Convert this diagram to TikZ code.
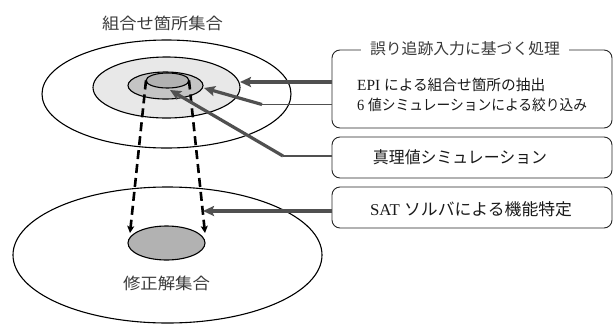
\documentclass[tikz,border=0pt]{standalone}
\usepackage{fontspec}
\usepackage{graphicx}
\setmainfont{Liberation Serif}
\newfontfamily\jp{Noto Sans CJK JP}
\usetikzlibrary{shapes.geometric,arrows.meta}
\definecolor{arrowgray}{HTML}{505050}
\definecolor{lightfill}{HTML}{E8E8E8}
\definecolor{midfill}{HTML}{C4C4C4}
\definecolor{darkfill}{HTML}{B2B2B2}
\definecolor{labelgray}{HTML}{3A3A3A}
\newcommand{\fitto}[2]{\resizebox{#1}{\height}{#2}}
\begin{document}
\begin{tikzpicture}[x=1pt,y=-1pt,
  ell/.style={ellipse,draw=black,line width=1.1pt,inner sep=0pt,outer sep=0pt},
  procbox/.style={draw=black!85,line width=0.9pt,rounded corners=8pt,minimum width=280pt,inner sep=0pt,outer sep=0pt},
  biglbl/.style={font=\jp\fontsize{16}{18}\selectfont,text=labelgray,inner sep=0pt},
  boxtxt/.style={font=\fontsize{15.5}{18}\selectfont,text=black!90,inner sep=0pt},
  fatarrow/.style={draw=arrowgray,line width=3.2pt,-{Stealth[length=11pt,width=10pt,inset=2pt]}},
  thinline/.style={draw=arrowgray,line width=1.1pt},
  dashline/.style={draw=black,line width=2.6pt,dash pattern=on 9pt off 5pt,-{Stealth[length=7pt,width=7pt,inset=1.5pt]}}
]
\useasboundingbox (0,0) rectangle (614,325);

% lower set
\node[ell,fill=white,minimum width=309pt,minimum height=136pt] (solset) at (167.5,255) {};
\node[ell,fill=darkfill,minimum width=77pt,minimum height=34pt] (sol) at (166.5,243) {};

% upper sets
\node[ell,fill=white,minimum width=249pt,minimum height=108pt] (outer) at (166.5,94) {};
\node[ell,fill=lightfill,minimum width=147pt,minimum height=61pt] (mid) at (166.5,87.5) {};
\node[ell,fill=midfill,minimum width=75pt,minimum height=27pt] (inner) at (165.5,85.5) {};
\node[ell,fill=darkfill,minimum width=43pt,minimum height=15pt] (core) at (167.5,80.5) {};

% labels
\node[biglbl] (toplabel) at (162.5,23) {\fitto{121pt}{組合せ箇所集合}};
\node[biglbl] (botlabel) at (166.5,283) {\fitto{87pt}{修正解集合}};

% dashed mapping
\coordinate (la) at (130,233);
\coordinate (ra) at (205,233);
\draw[dashline] (core.west) -- (la);
\draw[dashline] (core.east) -- (ra);

% boxes
\node[procbox,minimum height=78pt] (box1) at (472,89) {};
\node[procbox,minimum height=41pt] (box2) at (472,157.5) {};
\node[procbox,minimum height=41pt] (box3) at (472,207.5) {};

\node[fill=white,inner xsep=9pt,inner ysep=2pt,font=\jp\fontsize{15.5}{18}\selectfont,text=labelgray] (title) at (465,49) {\fitto{190pt}{誤り追跡入力に基づく処理}};
\node[boxtxt,anchor=west] (line1) at (357,85) {\fitto{188pt}{EPI {\jp\fontsize{14.8}{18}\selectfont による組合せ箇所の抽出}}};
\node[boxtxt,anchor=west] (line2) at (357,104.5) {\fitto{230pt}{6 {\jp\fontsize{14.8}{18}\selectfont 値シミュレーションによる絞り込み}}};
\node[boxtxt] (txt2) at (460,157) {\fitto{174pt}{\jp\fontsize{16.5}{18}\selectfont 真理値シミュレーション}};
\node[boxtxt,font=\fontsize{16.5}{18}\selectfont] (txt3) at (471,209) {\fitto{202pt}{SAT {\jp ソルバによる機能特定}}};

% arrows
\coordinate (t1) at (240,82);
\draw[fatarrow] (t1 -| box1.west) -- (t1);

\coordinate (k2) at (262,104.5);
\coordinate (t2) at (204,88);
\draw[thinline] (k2 -| box1.west) -- (k2);
\draw[fatarrow] (k2) -- (t2);

\coordinate (k3) at (283,156);
\coordinate (t3) at (170,90);
\draw[thinline] (k3 -| box2.west) -- (k3);
\draw[fatarrow] (k3) -- (t3);

\coordinate (t4) at (203,211);
\draw[fatarrow] (t4 -| box3.west) -- (t4);
\end{tikzpicture}
\end{document}
